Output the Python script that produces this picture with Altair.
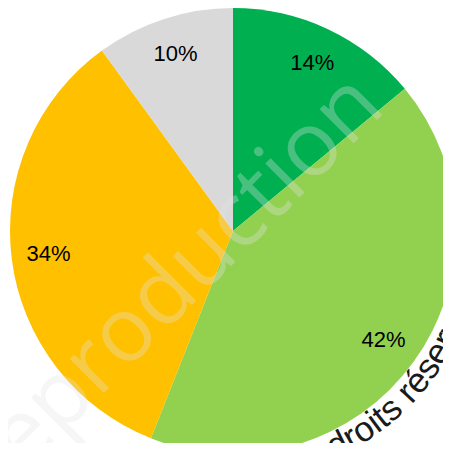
import math
import altair as alt
import pandas as pd

# Pie data
categories = ["Catégorie 1", "Catégorie 2", "Catégorie 3", "Catégorie 4"]
values = [14, 42, 34, 10]
labels = ["14%", "42%", "34%", "10%"]
colors = ["#00B050", "#92D050", "#FFC000", "#D9D9D9"]

# Watermark texts
wm_main = "Reproduction"
wm_chars = list("droits réservés")
wm_char_widths = [0.556, 0.333, 0.556, 0.222, 0.278, 0.5, 0.278,
                  0.333, 0.556, 0.5, 0.556, 0.333, 0.5, 0.556, 0.5]
wm_anchor_index = 5          # the "s" of "droits"
wm_anchor_theta_deg = 138.5  # where that letter sits around the pie

CX, CY, R = 225, 223, 223
LABEL_R = 186
WM_FONT = 35
WM_R = 249

df = pd.DataFrame({
    "cat": categories,
    "value": values,
    "label": labels,
    "order": list(range(len(values))),
})

base = alt.Chart(df).encode(
    theta=alt.Theta("value:Q", stack=True),
    order=alt.Order("order:Q"),
)

pie = base.mark_arc(radius=R, stroke=None).encode(
    x=alt.value(CX), y=alt.value(CY),
    color=alt.Color("cat:N", scale=alt.Scale(domain=categories, range=colors), legend=None),
)

pie_labels = base.mark_text(
    radius=LABEL_R, font="Liberation Sans", fontSize=22, color="black",
    align="center", baseline="middle",
).encode(x=alt.value(CX), y=alt.value(CY), text="label:N")

# big translucent watermark
wm_df = pd.DataFrame({"t": [wm_main]})
wm = alt.Chart(wm_df).mark_text(
    font="Open Sans", fontSize=90, angle=315, align="center", baseline="alphabetic",
    color="#e4e4e4", opacity=0.32,
).encode(x=alt.value(178), y=alt.value(303), text="t:N")

# curved "droits réservés" along the pie's edge
centers = []
acc = 0.0
for w in wm_char_widths:
    centers.append(acc + w / 2)
    acc += w
ref = centers[wm_anchor_index]
thetas = []
rots = []
for c in centers:
    d_deg = math.degrees((c - ref) * WM_FONT / WM_R)
    th = wm_anchor_theta_deg - d_deg
    thetas.append(math.radians(th))
    rots.append((th + 180) % 360)
chars_df = pd.DataFrame({"ch": wm_chars, "th": thetas, "rot": rots})
curved = alt.Chart(chars_df).mark_text(
    font="Liberation Sans", fontSize=WM_FONT, color="#1a1a1a",
    align="center", baseline="alphabetic",
).encode(
    x=alt.value(CX), y=alt.value(CY),
    theta=alt.Theta("th:Q", scale=None),
    radius=alt.value(WM_R),
    angle=alt.Angle("rot:Q", scale=None),
    text="ch:N",
)

chart = alt.layer(pie, wm, pie_labels, curved).properties(
    width=435, height=435, padding=0,
    autosize=alt.AutoSizeParams(type="none"),
).configure_view(stroke=None)

chart.save("out.html", embed_options={"renderer": "svg", "actions": False})
